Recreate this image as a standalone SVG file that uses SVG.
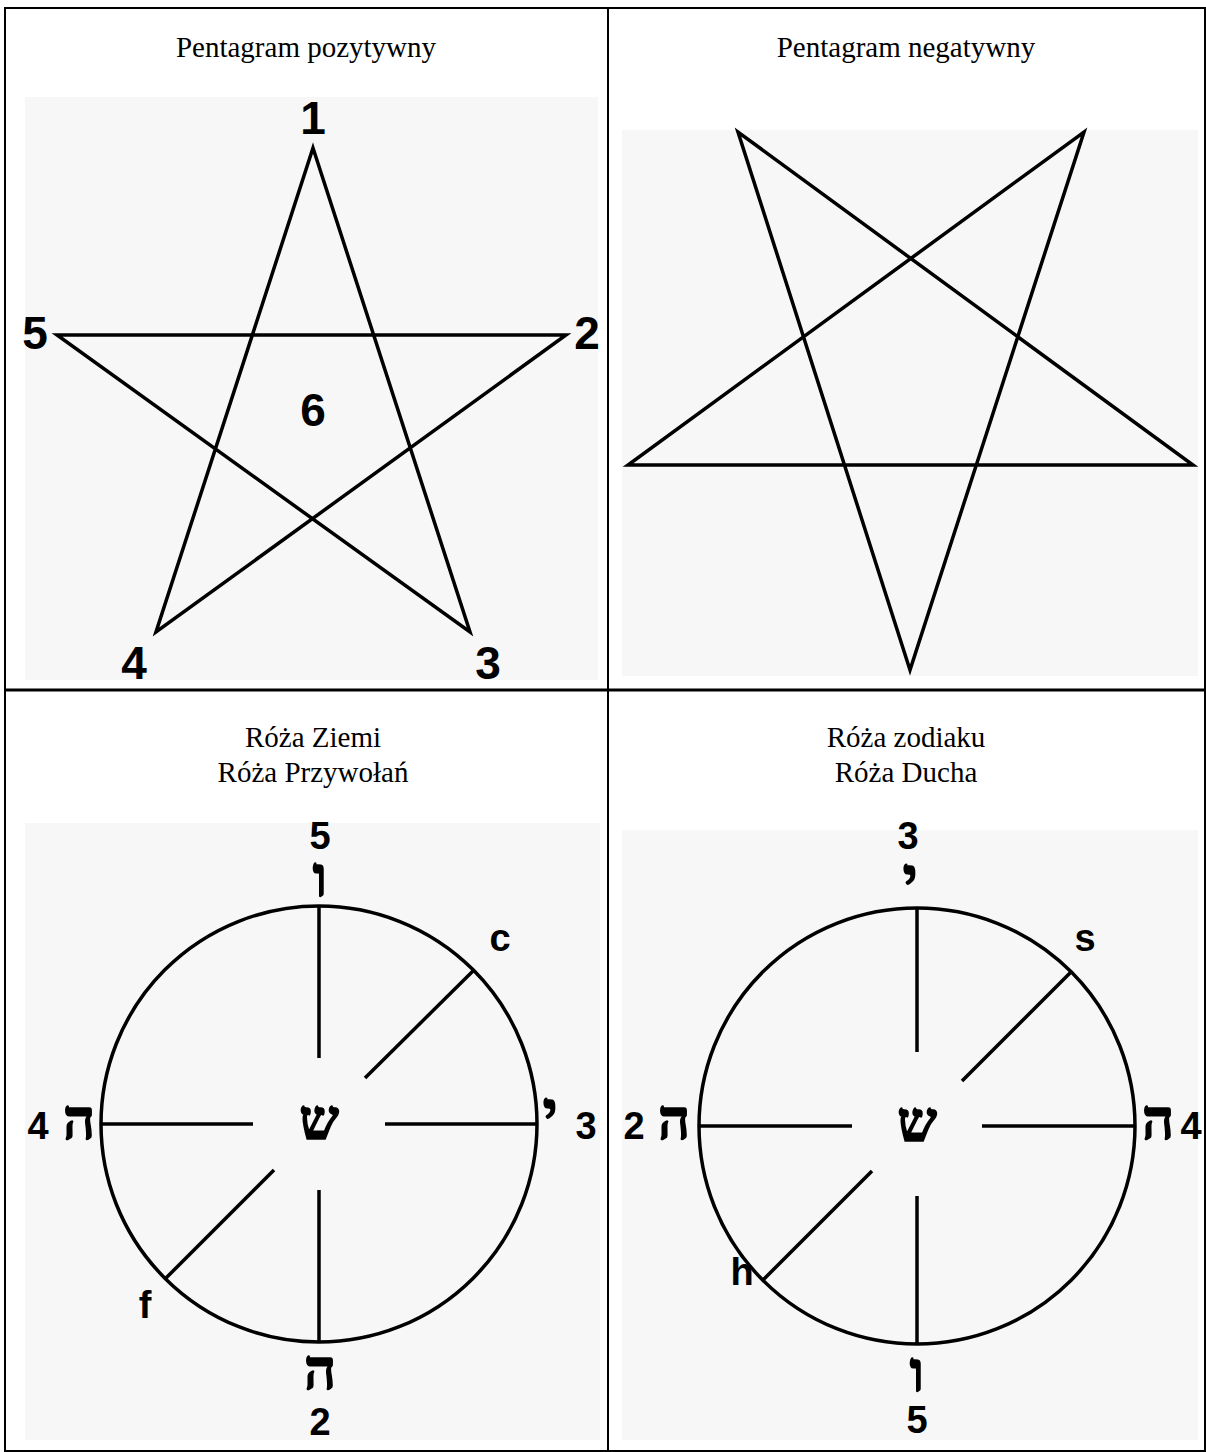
<svg xmlns="http://www.w3.org/2000/svg" width="1206" height="1452" viewBox="0 0 1206 1452">
<style>
.bg{fill:#f7f7f7}
.grid{stroke:#000;stroke-width:2;fill:none}
.ln{stroke:#000;stroke-width:3.5;fill:none;stroke-linejoin:miter}
.title{font-family:"Liberation Serif",serif;font-size:29px;fill:#000;text-anchor:middle}
.num{font-family:"Liberation Sans",Arial,sans-serif;font-weight:bold;font-size:46px;fill:#000;text-anchor:middle;dominant-baseline:central}
.lab{font-family:"Liberation Sans",Arial,sans-serif;font-weight:bold;font-size:38px;fill:#000;text-anchor:middle;dominant-baseline:central}
.heb{font-family:"Liberation Serif","DejaVu Sans",serif;font-weight:bold;font-size:56px;fill:#000;stroke:#000;stroke-width:1.5;text-anchor:middle;dominant-baseline:central}
</style>
<rect width="1206" height="1452" fill="#fff"/>
<g id="table">
<rect class="bg" x="25" y="97" width="573" height="583"/>
<rect class="bg" x="622" y="130" width="576" height="546"/>
<rect class="bg" x="25" y="823" width="575" height="617"/>
<rect class="bg" x="622" y="830" width="576" height="610"/>
<line class="grid" x1="4" y1="8" x2="1206" y2="8"/>
<line class="grid" x1="5" y1="8" x2="5" y2="1452"/>
<line class="grid" x1="608" y1="8" x2="608" y2="1452"/>
<line class="grid" x1="1205" y1="8" x2="1205" y2="1452"/>
<line x1="4" y1="690" x2="1206" y2="690" stroke="#000" stroke-width="3"/>
<line class="grid" x1="4" y1="1451" x2="1206" y2="1451"/>
</g>
<g id="titles">
<text class="title" x="306" y="57">Pentagram pozytywny</text>
<text class="title" x="906" y="57">Pentagram negatywny</text>
<text class="title" x="313" y="747">Róża Ziemi</text>
<text class="title" x="313" y="782">Róża Przywołań</text>
<text class="title" x="906" y="747">Róża zodiaku</text>
<text class="title" x="906" y="782">Róża Ducha</text>
</g>
<g id="pentagram-positive">
<polygon class="ln" points="313,148 470,632 57,335 566,335 156,632"/>
<text class="num" x="313" y="118">1</text>
<text class="num" x="587" y="333">2</text>
<text class="num" x="488" y="663">3</text>
<text class="num" x="134" y="663">4</text>
<text class="num" x="35" y="333">5</text>
<text class="num" x="313" y="410">6</text>
</g>
<g id="pentagram-negative">
<polygon class="ln" points="910,670 738,132 1193,465 628,465 1084,132"/>
</g>
<g id="rose-earth">
<circle class="ln" cx="319" cy="1124" r="218"/>
<line class="ln" x1="319" y1="906" x2="319" y2="1058"/>
<line class="ln" x1="319" y1="1190" x2="319" y2="1342"/>
<line class="ln" x1="101" y1="1124" x2="253" y2="1124"/>
<line class="ln" x1="385" y1="1124" x2="537" y2="1124"/>
<line class="ln" x1="474" y1="970" x2="365" y2="1078"/>
<line class="ln" x1="274" y1="1170" x2="166" y2="1278"/>
<text class="heb" x="319" y="1120" font-size="72">ש</text>
<text class="lab" x="320" y="836">5</text>
<text class="heb" x="320" y="877">ו</text>
<text class="lab" x="500" y="938">c</text>
<text class="lab" x="38" y="1126">4</text>
<text class="heb" x="79" y="1120">ה</text>
<text class="heb" x="550" y="1112">י</text>
<text class="lab" x="586" y="1126">3</text>
<text class="heb" x="320" y="1370">ה</text>
<text class="lab" x="320" y="1422">2</text>
<text class="lab" x="145" y="1305">f</text>
</g>
<g id="rose-zodiac">
<circle class="ln" cx="917" cy="1126" r="218"/>
<line class="ln" x1="917" y1="908" x2="917" y2="1052"/>
<line class="ln" x1="917" y1="1196" x2="917" y2="1344"/>
<line class="ln" x1="699" y1="1126" x2="852" y2="1126"/>
<line class="ln" x1="982" y1="1126" x2="1135" y2="1126"/>
<line class="ln" x1="1071" y1="972" x2="962" y2="1081"/>
<line class="ln" x1="872" y1="1171" x2="763" y2="1280"/>
<text class="heb" x="917" y="1122" font-size="72">ש</text>
<text class="lab" x="908" y="836">3</text>
<text class="heb" x="910" y="878">י</text>
<text class="lab" x="1085" y="938">s</text>
<text class="lab" x="634" y="1126">2</text>
<text class="heb" x="674" y="1120">ה</text>
<text class="heb" x="1158" y="1120">ה</text>
<text class="lab" x="1191" y="1126">4</text>
<text class="heb" x="917" y="1372">ו</text>
<text class="lab" x="917" y="1420">5</text>
<text class="lab" x="742" y="1272">h</text>
</g>
</svg>
